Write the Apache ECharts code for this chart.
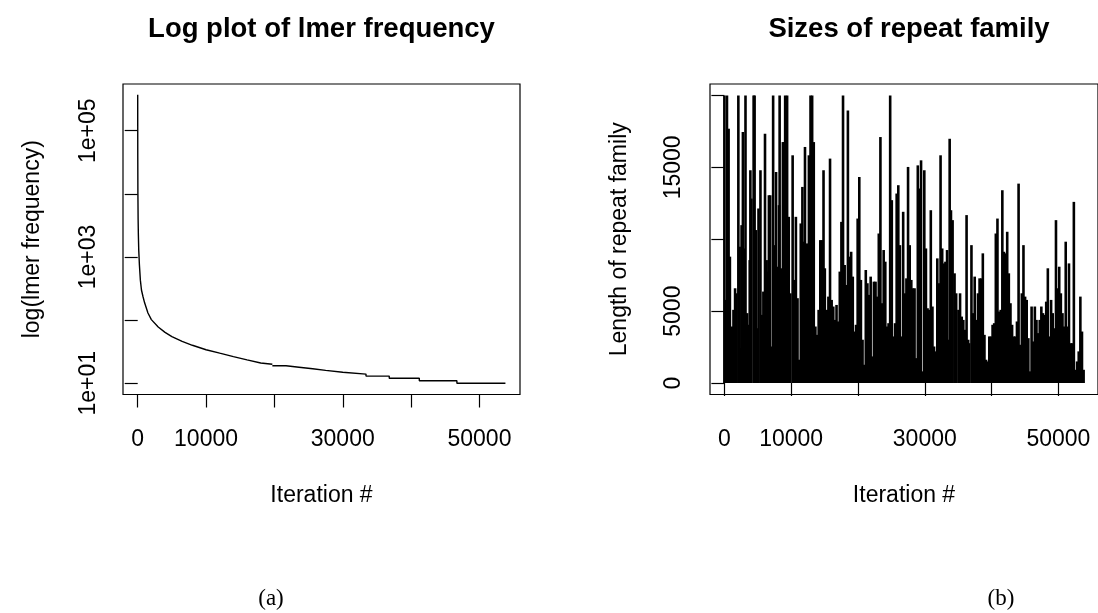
<!DOCTYPE html>
<html>
<head>
<meta charset="utf-8">
<script src="https://cdn.jsdelivr.net/npm/echarts@6/dist/echarts.min.js"></script>
<style>
html,body{margin:0;padding:0;background:#fff;}
#chart{width:1098px;height:613px;}
</style>
</head>
<body>
<div id="chart"></div>
<script>
// ---- Panel (a): lmer frequency by iteration (log scale) ----
const lmerIter = [1, 3, 10, 30, 60, 100, 150, 250, 390, 550, 780, 1000, 1500, 2000, 3000, 4000, 5000, 6500, 8000, 10000, 12000, 14000, 16000, 18000, 19700];
const lmerFreq = [370000, 150000, 40000, 10000, 4000, 2200, 1300, 750, 430, 300, 235, 190, 130, 102, 78, 64, 55, 46, 40, 34, 30, 26.5, 23.5, 21, 20];
// integer step tail: value holds from the iteration to the next one
const stepIter = [19700, 21700, 23600, 25600, 27500, 30000, 33400, 36800, 41200, 46700, 53800];
const stepFreq = [19, 18, 17, 16, 15, 14, 13, 12, 11, 10, 10];
const logTicks = [10, 100, 1000, 10000, 100000];
const logLabels = [10, 1000, 100000];

// ---- Panel (b): repeat family sizes (envelope of the vertical lines) ----
const repeatIter = [0,195,389,633,827,1119,1363,1606,1801,2093,2287,2482,2579,2774,2920,3163,3407,3504,3650,3796,3893,4039,4380,4526,4721,4867,5110,5402,5597,5840,6083,6327,6473,6667,6862,7057,7300,7543,7738,7933,8176,8273,8517,8760,8906,9101,9393,9636,9879,10220,10463,10707,10950,11193,11437,11680,11923,12069,12410,12653,12897,13140,13383,13627,13870,14113,14357,14600,14843,15038,15330,15573,15817,16060,16303,16547,16790,17033,17277,17520,17763,18007,18250,18493,18737,18980,19223,19467,19710,19953,20197,20440,20683,20927,21170,21413,21657,21900,22143,22387,22630,22873,23117,23360,23603,23847,24090,24333,24577,24820,25063,25307,25550,25793,26037,26280,26523,26767,27010,27253,27497,27740,27983,28227,28470,28713,28957,29200,29443,29687,29930,30173,30417,30660,30903,31147,31390,31633,31877,32120,32363,32607,32850,33093,33337,33580,33726,33921,34164,34456,34700,35040,35283,35527,35770,36013,36257,36500,36646,36987,37230,37473,37717,37960,38203,38447,38690,38933,39177,39420,39663,39907,40150,40393,40637,40880,41123,41367,41610,41853,42097,42340,42583,42827,43070,43313,43557,43800,44043,44287,44530,44773,45017,45260,45503,45747,45990,46233,46477,46720,46963,47207,47450,47693,47937,48180,48423,48667,48910,49153,49397,49640,49883,50127,50370,50613,50857,51100,51343,51587,51830,52073,52317,52560,52803,53047,53290,53533,53777];
const repeatLen = [20000,5780,20000,17690,8790,3930,5090,6590,6240,20000,9480,2430,10980,17460,9360,20000,4860,1390,4050,8550,14800,12830,20000,20000,10640,3810,12140,14800,4740,6360,17340,8550,7750,13060,13060,2540,20000,9590,14680,8090,12370,20000,7980,16760,16760,20000,20000,11560,6240,15840,7170,11560,5900,1620,11100,13640,9830,16420,9710,15840,20000,20000,16760,3930,3350,5090,9940,9940,14800,7980,5090,6010,15610,5780,5320,4390,5430,4280,7750,11210,20000,8210,6820,18960,8790,9130,7400,3580,4050,11440,14330,7170,3010,1270,7860,6940,6130,7400,1850,7050,7050,6010,10400,17110,5550,9250,8440,3930,4160,20000,12720,3240,4160,13180,13760,9590,3240,11910,6240,7280,15030,9590,7170,6590,6590,1730,15140,13530,15490,810,14800,9360,5200,5090,12020,5320,2540,2200,8670,6940,15840,9360,8320,8440,9250,3010,16990,12020,11330,7630,6240,5090,6240,4620,4390,3700,11680,3010,2770,9590,4860,7400,4390,6240,7280,7280,9020,3350,1620,1500,3240,3240,4050,4160,10400,11440,4970,5090,13410,9130,9020,10520,7630,5550,4050,3240,3240,4280,13870,2660,6240,9590,6010,5780,3120,810,5320,2890,5320,4390,3470,4390,5320,4860,4740,5660,7980,3240,5780,4860,3810,11330,6590,8090,6240,4860,3930,9830,3930,8320,2770,2770,12600,920,1500,2200,6010,3580,920];
const linTicks = [0, 5000, 10000, 15000, 20000];
const linLabels = [0, 5000, 15000];

// shared x axis ticks
const xTicks = [0, 10000, 20000, 30000, 40000, 50000];
const xLabels = [0, 10000, 30000, 50000];

const FONT = 'Liberation Sans, Arial, Helvetica, sans-serif';
const zip = (a, b) => a.slice(0, Math.min(a.length, b.length)).map((v, i) => [v, b[i]]);

const chart = echarts.init(document.getElementById('chart'), null, {renderer: 'canvas'});

function xAxisCfg(gi) {
  return {
    type: 'value', gridIndex: gi, min: -2151, max: 55931,
    axisLine: {show: false}, splitLine: {show: false},
    axisTick: {show: true, length: 13, customValues: xTicks, lineStyle: {color: '#000', width: 1.2}},
    axisLabel: {customValues: xLabels, fontSize: 23, color: '#000', fontFamily: FONT, margin: 34,
      formatter: v => String(v)},
    name: 'Iteration #', nameLocation: 'middle', nameGap: 90,
    nameTextStyle: {fontSize: 23, color: '#000', fontFamily: FONT}
  };
}

const option = {
  animation: false,
  backgroundColor: '#fff',
  grid: [
    {left: 123, top: 84, width: 397, height: 310.5, show: true, borderColor: '#000', borderWidth: 1.2, backgroundColor: 'transparent'},
    {left: 710, top: 84, width: 398, height: 310.5, show: true, borderColor: '#000', borderWidth: 1.2, backgroundColor: 'transparent'}
  ],
  xAxis: [xAxisCfg(0), xAxisCfg(1)],
  yAxis: [
    {
      type: 'log', logBase: 10, gridIndex: 0, min: 6.65, max: 549000,
      axisLine: {show: false}, splitLine: {show: false},
      axisTick: {show: true, length: 13, customValues: logTicks, lineStyle: {color: '#000', width: 1.2}},
      axisLabel: {customValues: logLabels, rotate: 90, fontSize: 23, color: '#000', fontFamily: FONT, margin: 23,
        formatter: v => '1e+' + String(Math.round(Math.log10(v))).padStart(2, '0')},
      name: 'log(lmer frequency)', nameLocation: 'middle', nameGap: 79,
      nameTextStyle: {fontSize: 23, color: '#000', fontFamily: FONT}
    },
    {
      type: 'value', gridIndex: 1, min: -800, max: 20800,
      axisLine: {show: false}, splitLine: {show: false},
      axisTick: {show: true, length: 13, customValues: linTicks, lineStyle: {color: '#000', width: 1.2}},
      axisLabel: {customValues: linLabels, rotate: 90, fontSize: 23, color: '#000', fontFamily: FONT, margin: 25,
        formatter: v => String(v)},
      name: 'Length of repeat family', nameLocation: 'middle', nameGap: 79,
      nameTextStyle: {fontSize: 23, color: '#000', fontFamily: FONT}
    }
  ],
  series: [
    {type: 'line', xAxisIndex: 0, yAxisIndex: 0, data: zip(lmerIter, lmerFreq), showSymbol: false, smooth: false,
      lineStyle: {color: '#000', width: 1.4}, silent: true},
    {type: 'line', xAxisIndex: 0, yAxisIndex: 0, data: zip(stepIter, stepFreq), step: 'end', showSymbol: false,
      lineStyle: {color: '#000', width: 1.4}, silent: true},
    {type: 'bar', xAxisIndex: 1, yAxisIndex: 1, data: zip(repeatIter, repeatLen), barWidth: 2.6,
      itemStyle: {color: '#000'}, silent: true}
  ],
  graphic: [
    {type: 'text', x: 321.5, y: 29, style: {text: 'Log plot of lmer frequency', font: 'bold 27.5px ' + FONT, fill: '#000', textAlign: 'center', textVerticalAlign: 'middle'}},
    {type: 'text', x: 909, y: 29, style: {text: 'Sizes of repeat family', font: 'bold 27.5px ' + FONT, fill: '#000', textAlign: 'center', textVerticalAlign: 'middle'}},
    {type: 'text', x: 271, y: 599, style: {text: '(a)', font: '23px Liberation Serif, DejaVu Serif, serif', fill: '#000', textAlign: 'center', textVerticalAlign: 'middle'}},
    {type: 'text', x: 1001, y: 599, style: {text: '(b)', font: '23px Liberation Serif, DejaVu Serif, serif', fill: '#000', textAlign: 'center', textVerticalAlign: 'middle'}}
  ]
};
chart.setOption(option);
</script>
</body>
</html>
